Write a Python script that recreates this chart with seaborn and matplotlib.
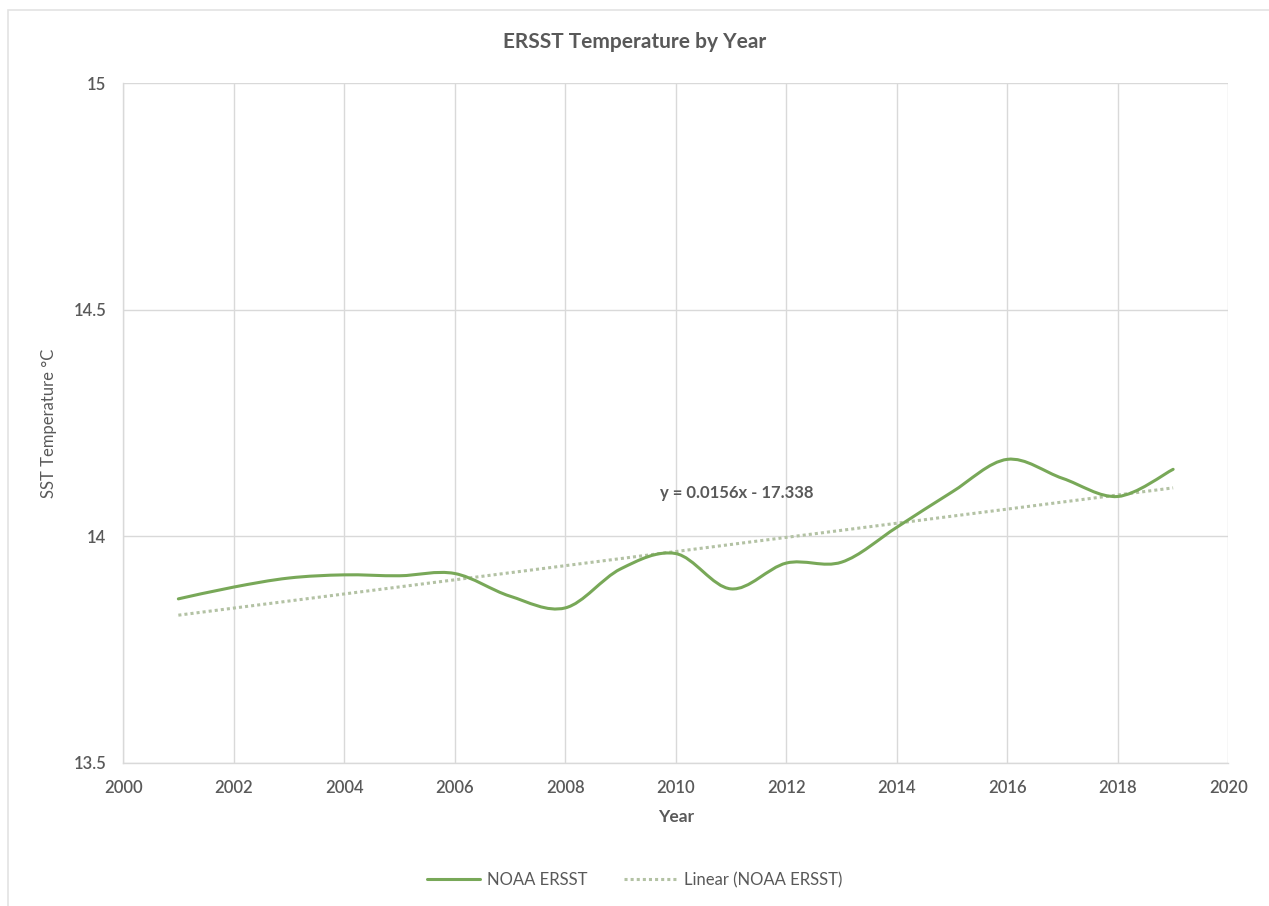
import numpy as np
import matplotlib
matplotlib.use("Agg")
import matplotlib.pyplot as plt
import seaborn as sns
from matplotlib.path import Path
from matplotlib.patches import PathPatch, Rectangle
from matplotlib.lines import Line2D

# values
years = [2001, 2002, 2003, 2004, 2005, 2006, 2007, 2008, 2009, 2010,
         2011, 2012, 2013, 2014, 2015, 2016, 2017, 2018, 2019]
sst = [13.862, 13.888, 13.908, 13.915, 13.913, 13.918, 13.868, 13.842, 13.928, 13.962,
       13.884, 13.941, 13.943, 14.020, 14.098, 14.170, 14.128, 14.088, 14.148]
trend_years = [2001, 2019]
trend_vals = [13.826, 14.107]
x_ticks = list(range(2000, 2021, 2))
y_ticks = [13.5, 14, 14.5, 15]
y_tick_labels = ["13.5", "14", "14.5", "15"]

GREEN = "#78a858"
TREND = "#b3c2a4"
GRID = "#d9d9d9"
TXT = "#595959"


def smooth_path(xs, ys):
    # Excel-style smoothed line: cubic bezier segments through every point
    p = np.column_stack([xs, ys]).astype(float)
    pts = np.vstack([p[0], p, p[-1]])
    verts = [p[0]]
    codes = [Path.MOVETO]
    for i in range(1, len(pts) - 2):
        c1 = pts[i] + (pts[i + 1] - pts[i - 1]) / 6
        c2 = pts[i + 1] - (pts[i + 2] - pts[i]) / 6
        verts += [c1, c2, pts[i + 1]]
        codes += [Path.CURVE4] * 3
    return Path(verts, codes)


sns.set_theme(style="whitegrid")
plt.rcParams['font.family'] = ['Lato', 'DejaVu Sans']

fig = plt.figure(figsize=(12.69, 9.06), dpi=100)
ax = fig.add_axes([0.097, 0.158, 0.871, 0.750])
ax.set_facecolor("white")

# chart area border
fig.patches.append(Rectangle((8 / 1269, -0.02), 1.02, 1 - 10 / 906 + 0.02,
                             transform=fig.transFigure, fill=False,
                             edgecolor="#e3e3e3", lw=1.2))

sns.lineplot(x=trend_years, y=trend_vals, ax=ax, color=TREND, lw=2.2,
             linestyle=(0, (1, 1)), zorder=2)
ax.add_patch(PathPatch(smooth_path(years, sst), fill=False, edgecolor=GREEN,
                       lw=2.2, capstyle="round", zorder=3))

ax.set_xlim(2000, 2020)
ax.set_ylim(13.5, 15)
ax.set_xticks(x_ticks)
ax.set_yticks(y_ticks)
ax.set_yticklabels(y_tick_labels)
ax.grid(True, color=GRID, lw=1)
for side in ["top", "right"]:
    ax.spines[side].set_visible(False)
for side in ["left", "bottom"]:
    ax.spines[side].set_color(GRID)
    ax.spines[side].set_linewidth(1)
ax.tick_params(axis="both", length=0, labelsize=12, labelcolor=TXT, pad=12)
for lab in ax.get_xticklabels() + ax.get_yticklabels():
    lab.set_fontweight("semibold")

ax.set_xlabel("Year", fontsize=12.5, color=TXT, fontweight="bold", labelpad=10)
ax.set_ylabel("SST Temperature °C", fontsize=12, color=TXT, labelpad=12)
fig.text(0.5, 1 - 42 / 906, "ERSST Temperature by Year", ha="center", va="center",
         fontsize=15, fontweight="bold", color=TXT)

ax.text(2009.72, 14.095, "y = 0.0156x - 17.338", fontsize=12, color=TXT,
        fontweight="bold", va="center", ha="left")

handles = [Line2D([], [], color=GREEN, lw=2.2),
           Line2D([], [], color=TREND, lw=2.2, linestyle=(0, (1, 1)))]
fig.legend(handles, ["NOAA ERSST", "Linear (NOAA ERSST)"], loc="center",
           bbox_to_anchor=(0.5, 1 - 880 / 906), ncol=2, frameon=False,
           fontsize=12, labelcolor=TXT, handlelength=3.2, handletextpad=0.4,
           columnspacing=2.2)

plt.savefig("out.png", dpi=100)
